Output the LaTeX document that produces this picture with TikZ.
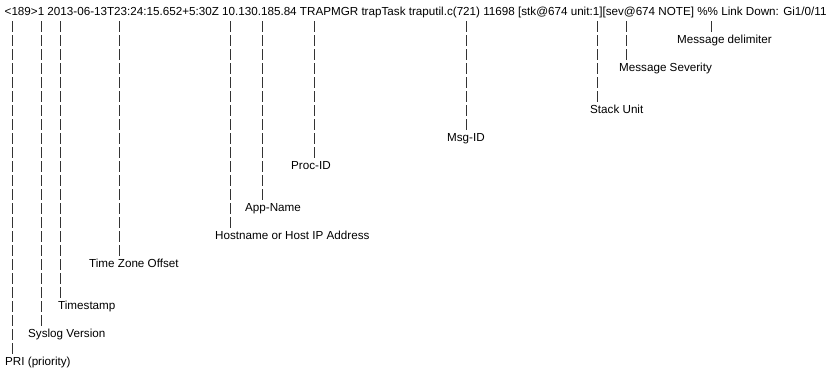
\documentclass[tikz,border=0pt]{standalone}
\usepackage{fontspec}
\setmainfont{Liberation Sans}
\usetikzlibrary{calc}
\newcommand\lbfont{\fontsize{11.66}{14}\selectfont}
\tikzset{
  lbl/.style={anchor=base west, inner sep=0pt, font=\lbfont, text=black},
  bar/.style={draw=black!80, line width=0.75pt, dash pattern=on 11pt off 3pt}
}
\begin{document}
\begin{tikzpicture}[x=1pt,y=1pt]
\def\bl{16}
\def\p{14}
\useasboundingbox (0,0) rectangle (836,-371);
\node[lbl] (msg) at (4.5,-\bl) {<189>1 2013-06-13T23:24:15.652+5:30Z 10.130.185.84 TRAPMGR trapTask traputil.c(721) 11698 [stk@674 unit:1][sev@674 NOTE] \%\% Link Down: Gi1/0/11};
% top ends of the bars
\foreach \n/\x in {pri/12.3, sysv/41.7, ts/60.3, tz/119.3, host/230.7, app/262.7, proc/314.7, msgid/466.7, stack/597.7, sev/626.7, delim/711.7}
  \coordinate (t-\n) at (\x, {-(\bl+\p-8.5)});
% labels
\node[lbl] (delim) at (677, {-(\bl+2*\p)}) {Message delimiter};
\node[lbl] (sev)   at (619, {-(\bl+4*\p)}) {Message Severity};
\node[lbl] (stack) at (590, {-(\bl+7*\p)}) {Stack Unit};
\node[lbl] (msgid) at (447, {-(\bl+9*\p)}) {Msg-ID};
\node[lbl] (proc)  at (291, {-(\bl+11*\p)}) {Proc-ID};
\node[lbl] (app)   at (245, {-(\bl+14*\p)}) {App-Name};
\node[lbl] (host)  at (215, {-(\bl+16*\p)}) {Hostname or Host IP Address};
\node[lbl] (tz)    at (89,  {-(\bl+18*\p)}) {Time Zone Offset};
\node[lbl] (ts)    at (58,  {-(\bl+21*\p)}) {Timestamp};
\node[lbl] (sysv)  at (28,  {-(\bl+23*\p)}) {Syslog Version};
\node[lbl] (pri)   at (5,   {-(\bl+25*\p)}) {PRI (priority)};
% connectors
\foreach \n in {pri, sysv, ts, tz, host, app, proc, msgid, stack, sev, delim}
  \draw[bar] (t-\n) -- ($(t-\n |- \n.base)+(0,\p-2.5)$);
\end{tikzpicture}
\end{document}
